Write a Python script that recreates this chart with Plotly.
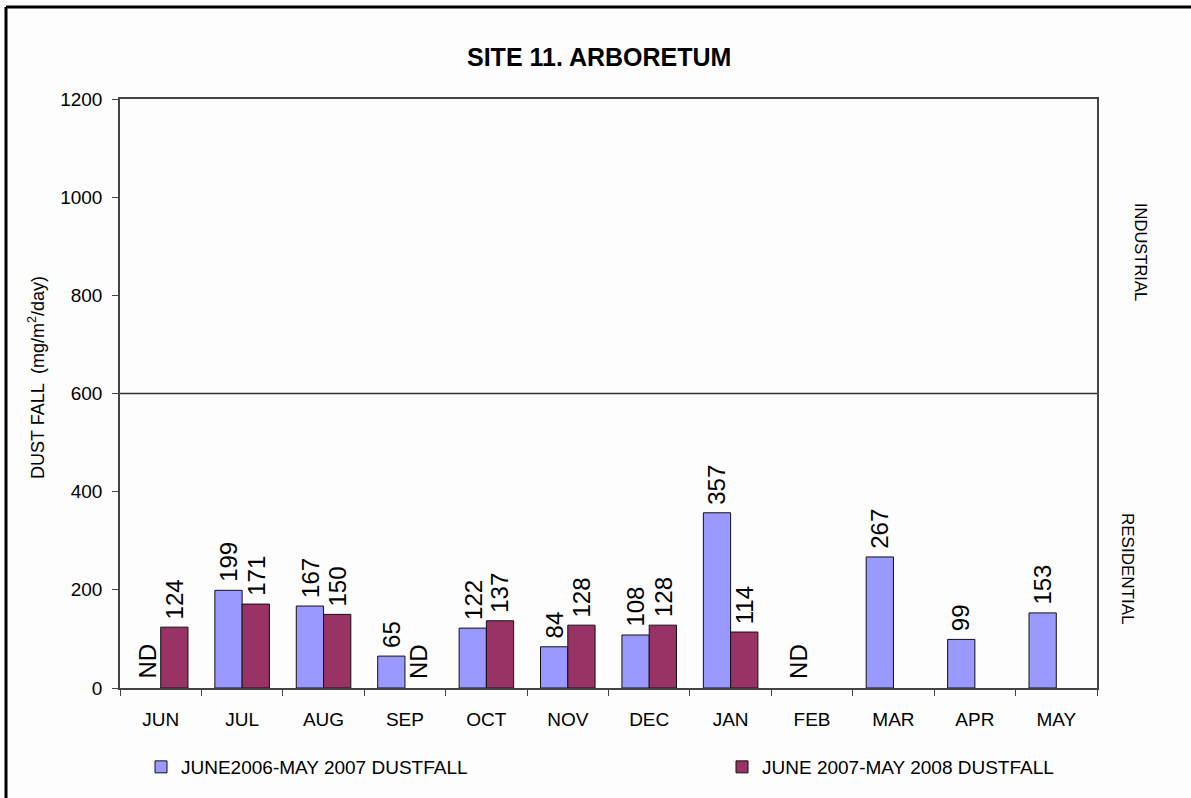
import plotly.graph_objects as go

months = ["JUN", "JUL", "AUG", "SEP", "OCT", "NOV", "DEC", "JAN", "FEB", "MAR", "APR", "MAY"]
dust_2006_07 = [None, 199, 167, 65, 122, 84, 108, 357, None, 267, 99, 153]
dust_2007_08 = [124, 171, 150, None, 137, 128, 128, 114, None, None, None, None]
nd_2006_07 = ["JUN", "FEB"]
nd_2007_08 = ["SEP"]
y_ticks = [0, 200, 400, 600, 800, 1000, 1200]
zone_limit = 600

BLUE = "#9999ff"
RED = "#993366"
FONT = "Liberation Sans, Arial, sans-serif"
W, H = 1191, 798
L, R, T, B = 120, 94, 99, 110
PW, PH = W - L - R, H - T - B
HALF_BAR = 13.6
LABEL_FONT = dict(size=24, color="black", family=FONT)


def px_x(p):
    return (p - L) / PW


def px_y(p):
    return (H - B - p) / PH


fig = go.Figure()
fig.add_trace(go.Bar(
    x=months, y=dust_2006_07, name="JUNE2006-MAY 2007 DUSTFALL", legend="legend",
    marker=dict(color=BLUE, line=dict(color="#111111", width=1)),
))
fig.add_trace(go.Bar(
    x=months, y=dust_2007_08, name="JUNE 2007-MAY 2008 DUSTFALL", legend="legend2",
    marker=dict(color=RED, line=dict(color="#111111", width=1)),
))

ann = []
for vals, shift in ((dust_2006_07, -HALF_BAR), (dust_2007_08, HALF_BAR)):
    for m, v in zip(months, vals):
        if v is None:
            continue
        ann.append(dict(x=m, y=v, xref="x", yref="y", text=str(v), showarrow=False,
                        textangle=-90, yanchor="bottom", xshift=shift, yshift=6,
                        font=LABEL_FONT))
for m in nd_2006_07:
    ann.append(dict(x=m, y=0, xref="x", yref="y", text="ND", showarrow=False,
                    textangle=-90, yanchor="bottom", xshift=-HALF_BAR, yshift=7,
                    font=LABEL_FONT))
for m in nd_2007_08:
    ann.append(dict(x=m, y=0, xref="x", yref="y", text="ND", showarrow=False,
                    textangle=-90, yanchor="bottom", xshift=HALF_BAR, yshift=7,
                    font=LABEL_FONT))

ann.append(dict(x=px_x(599), y=px_y(57), xref="paper", yref="paper", text="<b>SITE 11. ARBORETUM</b>",
                showarrow=False, xanchor="center", yanchor="middle",
                font=dict(size=25, color="black", family=FONT)))
ann.append(dict(x=px_x(36), y=px_y(378), xref="paper", yref="paper",
                text="DUST FALL  (mg/m<sup>2</sup>/day)", showarrow=False,
                textangle=-90, xanchor="center", yanchor="middle",
                font=dict(size=18, color="black", family=FONT)))
ann.append(dict(x=px_x(1141), y=px_y(252), xref="paper", yref="paper", text="INDUSTRIAL",
                showarrow=False, textangle=90, xanchor="center", yanchor="middle",
                font=dict(size=16.5, color="black", family=FONT)))
ann.append(dict(x=px_x(1128), y=px_y(568), xref="paper", yref="paper", text="RESIDENTIAL",
                showarrow=False, textangle=90, xanchor="center", yanchor="middle",
                font=dict(size=17, color="black", family=FONT)))

shapes = [
    dict(type="line", xref="paper", yref="y", x0=0, x1=1, y0=zone_limit, y1=zone_limit,
         line=dict(color="#333333", width=1.5)),
    # outer chart frame (left and top edges visible)
    dict(type="line", xref="paper", yref="paper", x0=px_x(6), x1=px_x(6),
         y0=px_y(7), y1=px_y(805), line=dict(color="black", width=3)),
    dict(type="line", xref="paper", yref="paper", x0=px_x(6), x1=px_x(1200),
         y0=px_y(7), y1=px_y(7), line=dict(color="black", width=3)),
]

legend_common = dict(orientation="h", xanchor="left", yanchor="middle",
                     font=dict(size=19, color="black", family=FONT),
                     bgcolor="rgba(0,0,0,0)", itemwidth=30)

fig.update_layout(
    width=W, height=H,
    margin=dict(l=L, r=R, t=T, b=B, autoexpand=False),
    paper_bgcolor="#fdfdfd", plot_bgcolor="#fdfdfd",
    barmode="group", bargap=0.33, bargroupgap=0,
    font=dict(family=FONT, color="black"),
    showlegend=True,
    legend=dict(x=px_x(141), y=px_y(767), **legend_common),
    legend2=dict(x=px_x(722), y=px_y(767), **legend_common),
    annotations=ann, shapes=shapes,
)
fig.update_xaxes(
    showline=True, linecolor="#444444", linewidth=1.5, mirror=True,
    ticks="outside", tickson="boundaries", ticklen=6, tickcolor="#444444",
    tickfont=dict(size=19, family=FONT, color="black"), ticklabelstandoff=13,
    showgrid=False, automargin=False,
)
fig.update_yaxes(
    range=[0, 1200], tickvals=y_ticks, showline=True, linecolor="#444444", linewidth=1.5,
    mirror=True, ticks="outside", ticklen=6, tickcolor="#444444",
    tickfont=dict(size=19, family=FONT, color="black"), ticklabelstandoff=6,
    showgrid=False, zeroline=False, automargin=False,
)

fig.write_html(
    "out.html",
    config={"displayModeBar": False},
    post_script="document.body.style.margin='0';document.body.style.overflow='hidden';",
)
